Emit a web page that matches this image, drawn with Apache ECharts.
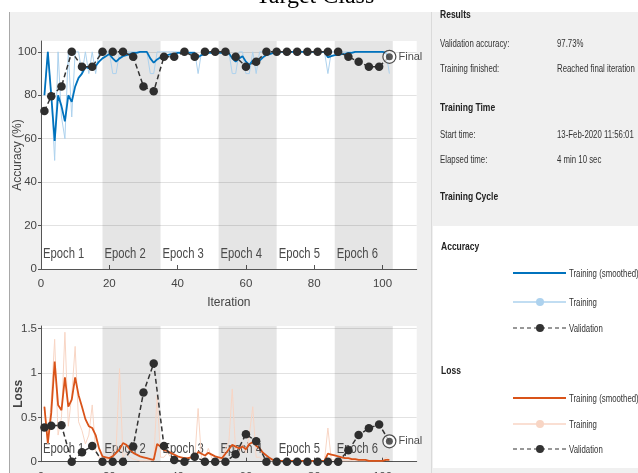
<!DOCTYPE html>
<html><head><meta charset="utf-8">
<script src="https://cdn.jsdelivr.net/npm/echarts@6/dist/echarts.min.js"></script>
<style>html,body{margin:0;padding:0;background:#fff}#c{width:638px;height:473px}</style>
</head><body><div id="c"></div>
<script>
// ---------------- data ----------------
const trainAccRaw = [80,100,80,50,100,70,60,100,70,100,
 100,90,100,90,100,90,100,100,100,100,
 90,90,100,100,100,100,100,100,100,100,
 100,90,90,100,100,100,100,100,100,100,
 100,100,100,100,100,90,100,100,100,100,
 100,100,100,100,100,90,90,100,100,90,
 90,100,90,100,100,100,100,100,100,100,
 100,100,100,100,100,100,100,100,100,100,
 100,100,100,90,100,100,100,100,100,100,
 100,100,100,100,100,100,100,100,100,100,
 100,90];
const trainAccSmooth = [80,100,80,59,80,75,68,80,77,84,
 88,90,93,92.5,94,93.5,95.5,97,98,99,
 97,95.5,97,98,98.5,99,99.5,99.5,100,100,
 100,97,95,96.5,97.5,98,98.5,99,99,99.5,
 99.5,99.5,99.5,99.5,99.5,97.5,98.5,99,99.5,99.5,
 99.5,99.5,99.5,99.5,99.5,97,95.5,97,98,95.5,
 94,96,94.5,96,97.5,98.5,99,99.5,99.5,100,
 100,100,100,100,100,100,100,100,100,100,
 100,100,100,97.5,98,98.5,98.5,99,99,99.5,
 99.5,100,100,100,100,100,100,100,100,100,
 99.5,97];
const trainLossRaw = [0.63,0.20,0.70,1.38,0.30,0.50,1.46,0.40,0.75,1.30,
 0.45,0.35,0.20,0.30,0.64,0.12,0.05,0.02,0.03,0.02,
 0.10,0.15,1.05,0.05,0.10,0.05,0.03,0.02,0.01,0.01,
 0.01,0.01,0.02,0.75,0.05,0.05,0.10,0.05,0.02,0.02,
 0.02,0.02,0.03,0.06,0.02,0.60,0.03,0.04,0.15,0.04,
 0.03,0.02,0.02,0.15,0.22,0.82,0.10,0.10,0.20,0.10,
 0.30,0.62,0.05,0.05,0.02,0.01,0.01,0.01,0.01,0.01,
 0.01,0.01,0.01,0.01,0.01,0.01,0.01,0.01,0.01,0.01,
 0.01,0.01,0.01,0.38,0.02,0.02,0.01,0.01,0.01,0.01,
 0.01,0.01,0.01,0.01,0.01,0.01,0.01,0.01,0.01,0.01,
 0.05,0.02];
const trainLossSmooth = [0.62,0.21,0.55,1.13,0.64,0.58,0.95,0.62,0.70,0.95,
 0.75,0.62,0.48,0.40,0.38,0.30,0.15,0.06,0.05,0.04,
 0.06,0.10,0.14,0.21,0.19,0.14,0.10,0.08,0.06,0.05,
 0.04,0.03,0.02,0.20,0.17,0.13,0.12,0.10,0.08,0.06,
 0.05,0.04,0.04,0.05,0.03,0.11,0.09,0.07,0.10,0.08,
 0.06,0.05,0.04,0.09,0.14,0.19,0.17,0.15,0.17,0.14,
 0.20,0.22,0.18,0.15,0.10,0.07,0.04,0.02,0.01,0.01,
 0.01,0.01,0.01,0.01,0.01,0.01,0.01,0.01,0.01,0.01,
 0.01,0.01,0.01,0.09,0.08,0.07,0.06,0.05,0.04,0.04,
 0.03,0.03,0.02,0.02,0.02,0.01,0.01,0.01,0.01,0.01,
 0.02,0.02];
const valIters = [1,3,6,9,12,15,18,21,24,27,30,33,36,39,42,45,48,51,54,57,60,63,66,69,72,75,78,81,84,87,90,93,96,99];
const valAcc = [72.73,79.55,84.09,100,93.18,93.18,100,100,100,97.73,84.09,81.82,97.73,97.73,100,97.73,100,100,100,97.73,93.18,95.45,100,100,100,100,100,100,100,100,97.73,95.45,93.18,93.18];
const valLoss = [0.385,0.405,0.41,0,0.106,0.178,0,0,0,0.17,0.78,1.108,0.178,0.02,0,0.057,0,0,0,0.085,0.31,0.23,0,0,0,0,0,0,0,0,0.13,0.30,0.378,0.42];
const finalIter = 102;
const finalAcc = 97.73;
const finalLoss = 0.23;
const epochEdges = [0,18,35,52,69,86,103];
const epochNames = ['Epoch 1','Epoch 2','Epoch 3','Epoch 4','Epoch 5','Epoch 6'];
const xTicks = [0,20,40,60,80,100];
const accTicks = [0,20,40,60,80,100];
const lossTicks = [0,0.5,1,1.5];
const titleText = 'Target Class';
const infoRows = [
  ['Validation accuracy:','97.73%'],
  ['Training finished:','Reached final iteration'],
  ['Start time:','13-Feb-2020 11:56:01'],
  ['Elapsed time:','4 min 10 sec']
];
const legendLabels = ['Training (smoothed)','Training','Validation'];

// ---------------- chart ----------------
const F = '"Liberation Sans",Arial,sans-serif';
const C_ACC = '#0072bd', C_ACC_RAW = '#add2ee', C_LOSS = '#d95319', C_LOSS_RAW = '#f8d5c4', C_VAL = '#333333';
const iters = trainAccRaw.map((_, i) => i + 1);
const pairs = (xs, ys) => ys.map((v, i) => [xs[i], v]);

function epochSeries(gi, yMax, bottomOff) {
  return {
    type: 'custom', xAxisIndex: gi, yAxisIndex: gi, z: 1, silent: true,
    data: epochNames.map((n, i) => [epochEdges[i], epochEdges[i + 1], i]),
    encode: {x: [0, 1]},
    renderItem: (params, api) => {
      const i = api.value(2);
      const p0 = api.coord([api.value(0), 0]);
      const p1 = api.coord([api.value(1), yMax]);
      return {type: 'group', children: [
        {type: 'rect', shape: {x: p0[0], y: p1[1], width: p1[0] - p0[0], height: p0[1] - p1[1]},
         style: {fill: i % 2 ? 'rgba(0,0,0,0.1)' : 'rgba(0,0,0,0)'}},
        {type: 'text', x: p0[0] + 2, y: p0[1] - bottomOff, scaleX: 0.75,
         style: {text: epochNames[i], fontFamily: F, fontSize: 15, fill: '#4a4a4a', verticalAlign: 'bottom', align: 'left'}}
      ]};
    }
  };
}

function xAxisCfg(gi, withName) {
  return {
    type: 'value', gridIndex: gi, min: 0, max: 110, interval: 20,
    axisLine: {show: true, onZero: false, lineStyle: {color: '#555', width: 1}},
    axisTick: {show: true, inside: true, length: 4, customValues: xTicks, lineStyle: {color: '#555'}},
    axisLabel: {customValues: xTicks, margin: 9, fontFamily: F, fontSize: 11.5, color: '#444'},
    splitLine: {show: false},
    name: withName ? 'Iteration' : '', nameLocation: 'middle', nameGap: 28, nameMoveOverlap: false,
    nameTextStyle: {fontFamily: F, fontSize: 12, color: '#444'}
  };
}
function yAxisCfg(gi, max, interval, ticks, name, bold, gap) {
  return {
    type: 'value', gridIndex: gi, min: 0, max: max, interval: interval,
    axisLine: {show: true, lineStyle: {color: '#555', width: 1}},
    axisTick: {show: true, length: 3, customValues: ticks, lineStyle: {color: '#555'}},
    axisLabel: {customValues: ticks, margin: 4, fontFamily: F, fontSize: 11.5, color: '#444'},
    splitLine: {show: true, lineStyle: {color: '#e2e2e2', width: 1}},
    name: name, nameLocation: 'middle', nameGap: gap, nameMoveOverlap: false,
    nameTextStyle: {fontFamily: F, fontSize: 12, color: '#444', fontWeight: bold ? 'bold' : 'normal'}
  };
}

const series = [];
// accuracy plot
series.push(epochSeries(0, 105, 8));
series.push({type: 'line', xAxisIndex: 0, yAxisIndex: 0, data: pairs(iters, trainAccRaw), showSymbol: false, z: 2,
  lineStyle: {color: C_ACC_RAW, width: 1}, itemStyle: {color: C_ACC_RAW}});
series.push({type: 'line', xAxisIndex: 0, yAxisIndex: 0, data: pairs(iters, trainAccSmooth), showSymbol: false, z: 3,
  lineStyle: {color: C_ACC, width: 1.8}, itemStyle: {color: C_ACC}});
series.push({type: 'line', xAxisIndex: 0, yAxisIndex: 0, z: 4,
  data: pairs(valIters, valAcc).concat([{value: [finalIter, finalAcc], symbol: 'none'}]),
  showSymbol: true, showAllSymbol: true, symbol: 'circle', symbolSize: 8.5,
  lineStyle: {color: C_VAL, width: 1.5, type: [5, 3]}, itemStyle: {color: '#2e2e2e'}});
// loss plot
series.push(epochSeries(1, 1.53, 5));
series.push({type: 'line', xAxisIndex: 1, yAxisIndex: 1, data: pairs(iters, trainLossRaw), showSymbol: false, z: 2,
  lineStyle: {color: C_LOSS_RAW, width: 1}, itemStyle: {color: C_LOSS_RAW}});
series.push({type: 'line', xAxisIndex: 1, yAxisIndex: 1, data: pairs(iters, trainLossSmooth), showSymbol: false, z: 3,
  lineStyle: {color: C_LOSS, width: 1.8}, itemStyle: {color: C_LOSS}});
series.push({type: 'line', xAxisIndex: 1, yAxisIndex: 1, z: 4,
  data: pairs(valIters, valLoss).concat([{value: [finalIter, finalLoss], symbol: 'none'}]),
  showSymbol: true, showAllSymbol: true, symbol: 'circle', symbolSize: 8.5,
  lineStyle: {color: C_VAL, width: 1.5, type: [5, 3]}, itemStyle: {color: '#2e2e2e'}});
// final markers
[[0, finalAcc], [1, finalLoss]].forEach(([gi, v]) => {
  series.push({type: 'scatter', xAxisIndex: gi, yAxisIndex: gi, z: 5, data: [[finalIter, v]],
    symbol: 'circle', symbolSize: 13,
    itemStyle: {color: 'rgba(255,255,255,0.85)', borderColor: '#222', borderWidth: 1.2},
    label: {show: true, position: 'right', distance: 2, formatter: 'Final', fontFamily: F, fontSize: 11, color: '#222'}});
  series.push({type: 'scatter', xAxisIndex: gi, yAxisIndex: gi, z: 6, data: [[finalIter, v]],
    symbol: 'circle', symbolSize: 7, itemStyle: {color: '#2e2e2e'}});
});

// panel graphics
const G = [];
G.push({type: 'rect', shape: {x: 0, y: 0, width: 638, height: 12}, style: {fill: '#ffffff'}, z: -10, silent: true});
G.push({type: 'rect', shape: {x: 0, y: 0, width: 9, height: 473}, style: {fill: '#ffffff'}, z: -10, silent: true});
G.push({type: 'line', shape: {x1: 9.5, y1: 12, x2: 9.5, y2: 473}, style: {stroke: '#a8a8a8', lineWidth: 1}, silent: true});
G.push({type: 'line', shape: {x1: 431.5, y1: 12, x2: 431.5, y2: 473}, style: {stroke: '#dadada', lineWidth: 1}, silent: true});
G.push({type: 'rect', shape: {x: 433, y: 226, width: 205, height: 242}, style: {fill: '#ffffff'}, silent: true});
G.push({type: 'text', x: 315, y: 9, style: {text: titleText, fontFamily: '"Liberation Serif","Times New Roman",serif', fontSize: 24, fill: '#000', align: 'center', verticalAlign: 'bottom'}, silent: true});
const hdr = (t, x, y) => ({type: 'text', x: x, y: y, scaleX: 0.74, style: {text: t, fontFamily: F, fontSize: 11.5, fontWeight: 'bold', fill: '#222', verticalAlign: 'middle'}, silent: true});
const txt = (t, x, y) => ({type: 'text', x: x, y: y, scaleX: 0.68, style: {text: t, fontFamily: F, fontSize: 11.5, fill: '#333', verticalAlign: 'middle'}, silent: true});
G.push(hdr('Results', 440, 15));
G.push(txt(infoRows[0][0], 440, 44)); G.push(txt(infoRows[0][1], 557, 44));
G.push(txt(infoRows[1][0], 440, 69)); G.push(txt(infoRows[1][1], 557, 69));
G.push(hdr('Training Time', 440, 108));
G.push(txt(infoRows[2][0], 440, 135)); G.push(txt(infoRows[2][1], 557, 135));
G.push(txt(infoRows[3][0], 440, 160)); G.push(txt(infoRows[3][1], 557, 160));
G.push(hdr('Training Cycle', 440, 197));
G.push(hdr('Accuracy', 441, 247));
G.push(hdr('Loss', 441, 371));
function legendRow(y, color, width, dashed, dot, label) {
  G.push({type: 'line', shape: {x1: 513, y1: y, x2: 566, y2: y},
    style: {stroke: color, lineWidth: width, lineDash: dashed ? [4, 3] : null}, silent: true});
  if (dot) G.push({type: 'circle', shape: {cx: 540, cy: y, r: 4}, style: {fill: color}, silent: true});
  G.push(txt(label, 569, y + 1));
}
legendRow(273, C_ACC, 1.8, false, false, legendLabels[0]);
legendRow(302, C_ACC_RAW, 1.3, false, true, legendLabels[1]);
legendRow(328, C_VAL, 1.2, true, true, legendLabels[2]);
legendRow(398, C_LOSS, 1.8, false, false, legendLabels[0]);
legendRow(424, C_LOSS_RAW, 1.3, false, true, legendLabels[1]);
legendRow(449, C_VAL, 1.2, true, true, legendLabels[2]);

const chart = echarts.init(document.getElementById('c'), null, {renderer: 'canvas'});
chart.setOption({
  animation: false,
  backgroundColor: '#f0f0f0',
  grid: [
    {left: 41, top: 41, width: 375.7, height: 228, show: true, backgroundColor: '#ffffff', borderWidth: 0, containLabel: false, outerBoundsMode: 'none'},
    {left: 41, top: 326, width: 375.7, height: 135.7, show: true, backgroundColor: '#ffffff', borderWidth: 0, containLabel: false, outerBoundsMode: 'none'}
  ],
  xAxis: [xAxisCfg(0, true), xAxisCfg(1, false)],
  yAxis: [yAxisCfg(0, 105, 20, accTicks, 'Accuracy (%)', false, 17), yAxisCfg(1, 1.53, 0.5, lossTicks, 'Loss', true, 16)],
  series: series,
  graphic: G
});
</script></body></html>
